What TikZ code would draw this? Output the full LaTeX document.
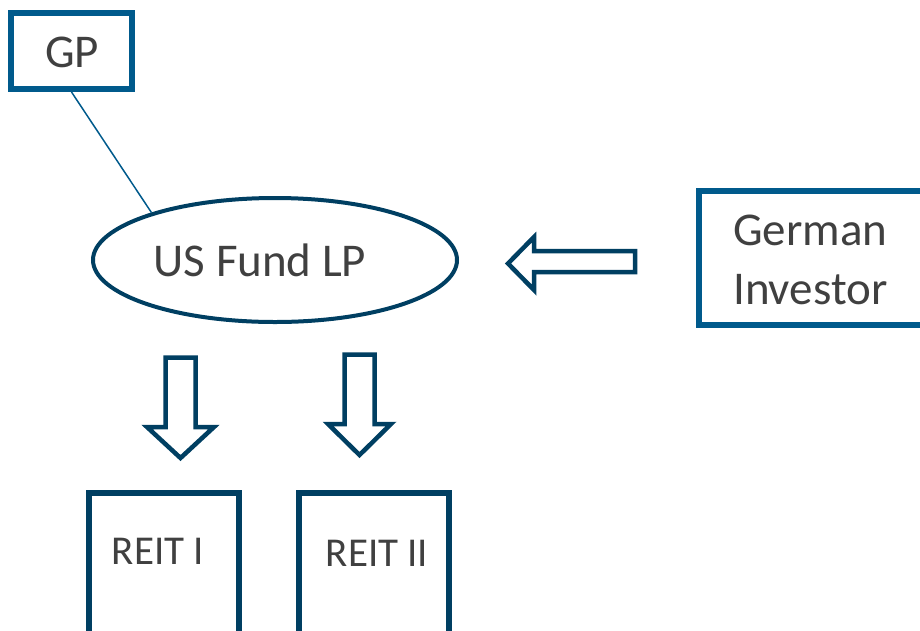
\documentclass[tikz,border=0pt]{standalone}
\usepackage{fontspec}
\setmainfont{Carlito}
\usetikzlibrary{shapes.geometric}
\definecolor{lblue}{RGB}{0,90,140}
\definecolor{dblue}{RGB}{0,63,98}
\definecolor{txtgray}{RGB}{64,64,64}
\begin{document}
\begin{tikzpicture}[x=1pt,y=-1pt,
  lbox/.style={draw=lblue, line width=6pt, rectangle, inner sep=0pt},
  dbox/.style={draw=dblue, line width=5.5pt, rectangle, inner sep=0pt},
  bigtxt/.style={text=txtgray, font=\fontsize{47}{56}\selectfont, inner sep=0pt},
  smalltxt/.style={text=txtgray, font=\fontsize{41}{50}\selectfont, inner sep=0pt},
  blockarrow/.style={draw=dblue, line width=4.5pt, fill=white, line join=miter},
  thinline/.style={draw=lblue, line width=1.5pt}]
\useasboundingbox (0,0) rectangle (920,630);
\begin{scope}
\clip (0,0) rectangle (920,630);
% GP
\node[lbox, minimum width=121pt, minimum height=76pt] (gp) at (71.5,51) {};
\node[bigtxt, anchor=base] (gptxt) at (72,67) {GP};
% US Fund LP
\node[draw=dblue, line width=4pt, ellipse, inner sep=0pt, minimum width=364pt, minimum height=124pt] (fund) at (275,260) {};
\node[bigtxt, anchor=base] (fundtxt) at (260,276) {US Fund LP};
\draw[thinline] (gp.south) -- (fund.159);
% German Investor
\node[lbox, line width=5.5pt, minimum width=261pt, minimum height=134pt] (inv) at (829.5,258) {};
\node[bigtxt, anchor=base west] (invtxt1) at (733,245) {German};
\node[bigtxt, anchor=base west] (invtxt2) at (733,304) {Investor};
% REITs
\node[dbox, minimum width=150pt, minimum height=207pt] (reit1) at (164,596.5) {};
\node[smalltxt, anchor=base] (reit1txt) at (158,564) {REIT I};
\node[dbox, minimum width=150pt, minimum height=207pt] (reit2) at (374,596.5) {};
\node[smalltxt, anchor=base] (reit2txt) at (377,566) {REIT II};
% block arrows
\draw[blockarrow] (508,263.5) -- (534,237) -- (534,251) -- (635,251) -- (635,272) -- (534,272) -- (534,290) -- cycle;
\draw[blockarrow] (165.5,357.5) -- (195.5,357.5) -- (195.5,427) -- (214,427) -- (180.5,458) -- (147,427) -- (165.5,427) -- cycle;
\draw[blockarrow] (344.5,354.5) -- (374.5,354.5) -- (374.5,424) -- (391,424) -- (359.5,455) -- (328,424) -- (344.5,424) -- cycle;
\end{scope}
\end{tikzpicture}
\end{document}
